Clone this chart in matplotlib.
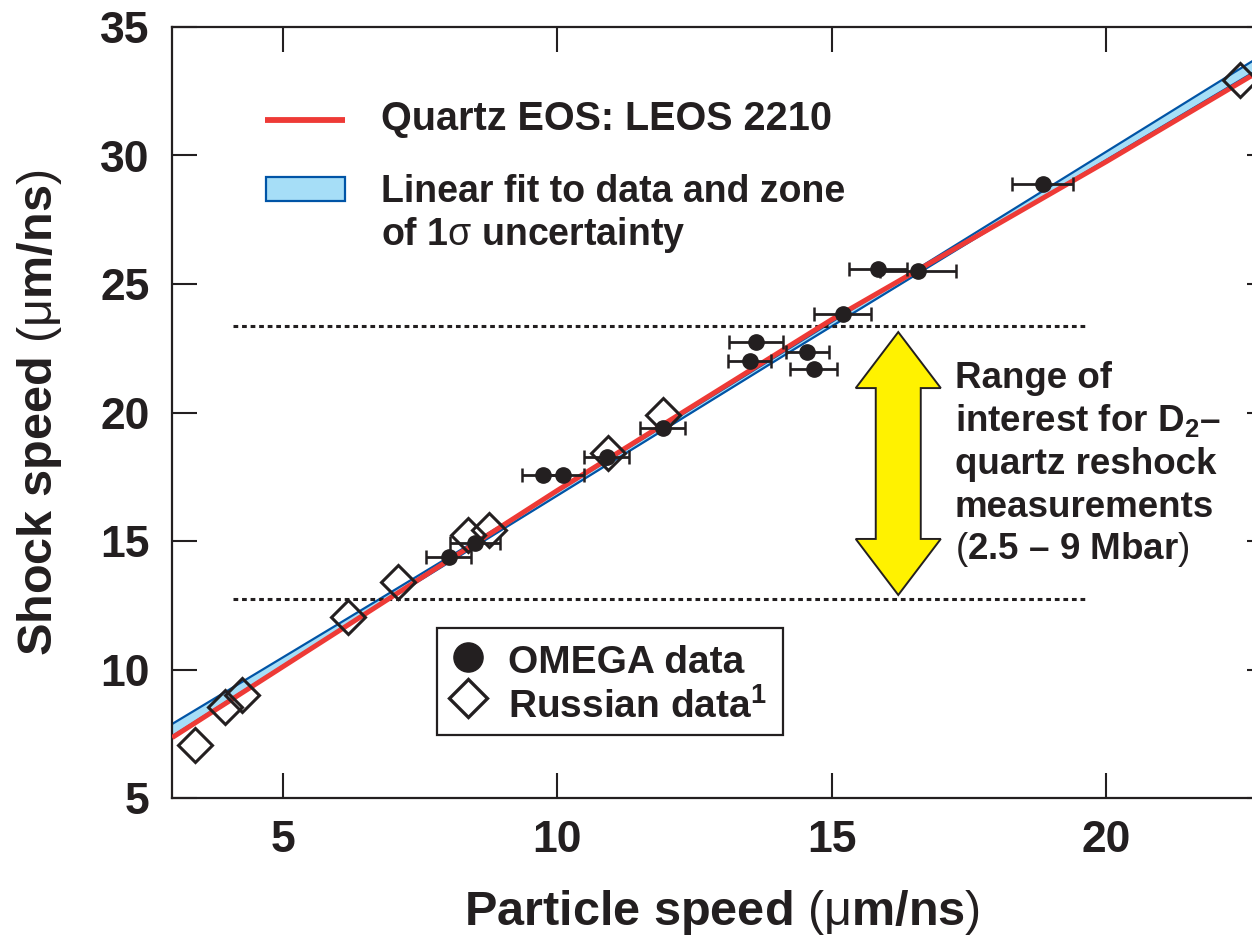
import numpy as np
import matplotlib
matplotlib.use("Agg")
import matplotlib.pyplot as plt
from matplotlib.patches import Polygon, Rectangle

plt.rcParams['font.family'] = ['Liberation Sans', 'DejaVu Sans']
plt.rcParams['font.weight'] = 'bold'
plt.rcParams['axes.labelweight'] = 'bold'
plt.rcParams['mathtext.fontset'] = 'custom'
plt.rcParams['mathtext.rm'] = 'Liberation Sans:weight=normal'
plt.rcParams['mathtext.bf'] = 'Liberation Sans:weight=bold'
plt.rcParams['mathtext.it'] = 'Liberation Sans:italic:weight=normal'

INK = '#231F20'
RED = '#EE3A36'
BLUE = '#0054A6'
FILL = '#A6DEF7'
YELLOW = '#FFF200'

# OMEGA data (particle speed, shock speed, x error)
omega_up = [8.02, 8.50, 9.74, 10.10, 10.90, 11.92, 13.50, 13.62, 14.55, 14.67, 15.20, 15.84, 16.57, 18.84]
omega_us = [14.38, 14.92, 17.57, 17.55, 18.27, 19.40, 22.00, 22.74, 22.36, 21.69, 23.83, 25.58, 25.50, 28.89]
omega_err = [0.41, 0.45, 0.38, 0.38, 0.41, 0.41, 0.40, 0.49, 0.39, 0.43, 0.52, 0.53, 0.70, 0.55]

# Russian data
russ_up = [3.40, 3.94, 4.25, 6.18, 7.10, 8.37, 8.75, 10.92, 11.92, 22.44]
russ_us = [7.06, 8.54, 9.00, 12.04, 13.40, 15.23, 15.43, 18.42, 19.90, 32.94]

# Quartz EOS LEOS 2210 curve
leos_up = [2.98, 6.0, 10.0, 15.0, 20.0, 23.0]
leos_us = [7.35, 11.48, 16.97, 23.62, 29.76, 33.55]

# linear fit with 1 sigma zone
band_up = [2.98, 6.0, 10.0, 14.0, 18.0, 23.0]
band_lo = [7.40, 11.50, 16.77, 22.05, 27.28, 33.64]
band_hi = [7.88, 11.76, 16.93, 22.20, 27.50, 34.12]

# range of interest for D2-quartz reshock
range_lo = 12.75
range_hi = 23.35
range_x = [4.09, 19.66]

fig = plt.figure(figsize=(12.52, 9.38), dpi=100)
ax = fig.add_axes([172 / 1252, 1 - 798 / 938, 1100 / 1252, 771 / 938])

ax.fill_between(band_up, band_lo, band_hi, color=FILL, lw=0, zorder=1)
ax.plot(band_up, band_lo, color=BLUE, lw=1.6, zorder=2)
ax.plot(band_up, band_hi, color=BLUE, lw=1.6, zorder=2)
ax.plot(leos_up, leos_us, color=RED, lw=3.6, zorder=3, solid_capstyle='butt')

for yv in (range_lo, range_hi):
    ax.plot(range_x, [yv, yv], color=INK, lw=2.2, ls=(0, (1.55, 1.25)), zorder=2)

ax.errorbar(omega_up, omega_us, xerr=omega_err, fmt='o', ms=11, color=INK,
            ecolor=INK, elinewidth=2.0, capsize=4.8, capthick=1.8, zorder=5)
ax.plot(russ_up, russ_us, ls='none', marker='D', ms=17, mfc='none', mec=INK,
        mew=2.2, zorder=4)

# double headed yellow arrow
arr_x = 16.21
arr_lo, arr_hi = 12.9, 23.13
head_w, head_len, shaft_w = 1.55, 2.18, 0.82
verts = [
    (arr_x, arr_hi),
    (arr_x + head_w / 2, arr_hi - head_len),
    (arr_x + shaft_w / 2, arr_hi - head_len),
    (arr_x + shaft_w / 2, arr_lo + head_len),
    (arr_x + head_w / 2, arr_lo + head_len),
    (arr_x, arr_lo),
    (arr_x - head_w / 2, arr_lo + head_len),
    (arr_x - shaft_w / 2, arr_lo + head_len),
    (arr_x - shaft_w / 2, arr_hi - head_len),
    (arr_x - head_w / 2, arr_hi - head_len),
]
ax.add_patch(Polygon(verts, closed=True, fc=YELLOW, ec=INK, lw=1.4, zorder=4))

range_lines = [
    'Range of',
    'interest for D$_\\mathbf{2}$\u2013',
    'quartz reshock',
    'measurements',
    '$\\mathrm{(}$2.5 \u2013 9 Mbar$\\mathrm{)}$',
]
for i, line in enumerate(range_lines):
    ax.text(0.7118, 0.5318 - i * 0.0556, line, transform=ax.transAxes,
            fontsize=26.5, ha='left', va='baseline', color=INK)

# upper legend
ax.plot([0.0845, 0.1573], [0.8794, 0.8794], transform=ax.transAxes, color=RED,
        lw=4.2, solid_capstyle='butt')
ax.add_patch(Rectangle((0.0855, 0.7743), 0.0715, 0.0311, transform=ax.transAxes,
                       fc=FILL, ec=BLUE, lw=1.6))
ax.text(0.19, 0.8664, 'Quartz EOS: LEOS 2210', transform=ax.transAxes,
        fontsize=28.5, va='baseline', color=INK)
ax.text(0.19, 0.773, 'Linear fit to data and zone', transform=ax.transAxes,
        fontsize=27, va='baseline', color=INK)
ax.text(0.19, 0.7173, 'of 1$\\mathrm{\\sigma}$ uncertainty', transform=ax.transAxes,
        fontsize=27, va='baseline', color=INK)

# lower legend box
ax.add_patch(Rectangle((0.2409, 0.0817), 0.3146, 0.1388, transform=ax.transAxes,
                       fc='white', ec=INK, lw=1.6, zorder=6))
ax.plot([0.269], [0.1829], transform=ax.transAxes, marker='o', ms=21, color=INK,
        ls='none', zorder=7)
ax.plot([0.269], [0.1297], transform=ax.transAxes, marker='D', ms=19, mfc='none',
        mec=INK, mew=2.4, ls='none', zorder=7)
ax.text(0.305, 0.1621, 'OMEGA data', transform=ax.transAxes, fontsize=28,
        va='baseline', color=INK, zorder=7)
ax.text(0.305, 0.1038, 'Russian data$^\\mathbf{1}$', transform=ax.transAxes,
        fontsize=28, va='baseline', color=INK, zorder=7)

ax.set_xlim(2.977, 23.02)
ax.set_ylim(5, 35)
ax.set_xticks([5, 10, 15, 20])
ax.set_yticks([5, 10, 15, 20, 25, 30, 35])
ax.tick_params(direction='in', length=18, width=1.5, top=True, right=True,
               labelsize=32, pad=16, colors=INK)
for s in ax.spines.values():
    s.set_linewidth(1.6)
    s.set_color(INK)

ax.set_xlabel('Particle speed $\\mathrm{(\\mu}\\mathbf{m/ns}\\mathrm{)}$', fontsize=35, color=INK)
ax.set_ylabel('Shock speed $\\mathrm{(\\mu}\\mathbf{m/ns}\\mathrm{)}$', fontsize=35, color=INK)
ax.xaxis.set_label_coords(0.5, -0.1167)
ax.yaxis.set_label_coords(-0.098, 0.5)

fig.savefig('out.png', dpi=100)
